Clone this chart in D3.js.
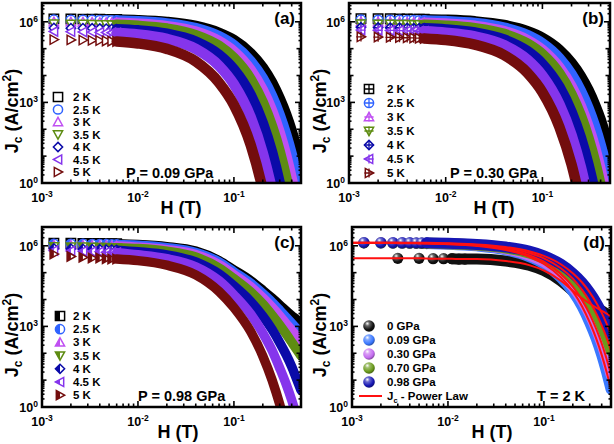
<!DOCTYPE html>
<html><head><meta charset="utf-8">
<script src="https://cdn.jsdelivr.net/npm/d3@7"></script>
<style>
body{margin:0;background:#fff}
text{font-family:Arial,"Liberation Sans",sans-serif;font-weight:bold;fill:#000}
</style></head>
<body><svg id="c" width="614" height="444"></svg>
<script>
// ---------- data ----------
const H = [0.00133,0.002,0.00267,0.00333,0.004,0.00467,0.00533,0.006,0.01,0.02,0.04,0.07,0.1,0.15,0.2,0.25,0.3,0.35,0.4,0.45,0.5];
const H0GPa = [0.003,0.005,0.007,0.009,0.011,0.013,0.015,0.02,0.04,0.07,0.1,0.15,0.2,0.25,0.3,0.35,0.4,0.45,0.5];
const tempLabels = ["2 K","2.5 K","3 K","3.5 K","4 K","4.5 K","5 K"];
const tempColors = ["#000000","#2f63ff","#c050f2","#5e8c12","#0a0aa8","#8535ec","#730d0d"];
const pressLabels = ["0 GPa","0.09 GPa","0.30 GPa","0.70 GPa","0.98 GPa"];
const pressColors = ["#111111","#3a78ff","#c46cf0","#6a9a1c","#1616b4"];
const xTickVals = [1e-3,1e-2,1e-1], xTickExp = ["-3","-2","-1"];
const yTickVals = [1,1e3,1e6], yTickExp = ["0","3","6"];

// (a) P = 0.09 GPa
const a2K  = [1.28e6,1.27e6,1.26e6,1.25e6,1.24e6,1.23e6,1.22e6,1.21e6,1.15e6,9.9e5,7.0e5,3.9e5,2.1e5,6.7e4,2.0e4,5.5e3,1.4e3,360,87,20,4.6];
const a25K = [1.19e6,1.18e6,1.17e6,1.16e6,1.15e6,1.14e6,1.13e6,1.12e6,1.05e6,8.7e5,5.8e5,2.9e5,1.35e5,3.4e4,7.9e3,1.7e3,340,65,12,2.0,0.34];
const a3K  = [9.9e5,9.8e5,9.7e5,9.6e5,9.5e5,9.4e5,9.3e5,9.2e5,8.5e5,6.9e5,4.3e5,1.9e5,7.9e4,1.6e4,2.9e3,490,75,11,1.5,0.19,0.025];
const a35K = [8.4e5,8.3e5,8.2e5,8.1e5,8.0e5,7.9e5,7.8e5,7.7e5,7.1e5,5.6e5,3.2e5,1.26e5,4.5e4,7.2e3,1.0e3,127,15,1.6,0.16,0.015];
const a4K  = [5.9e5,5.8e5,5.75e5,5.7e5,5.6e5,5.5e5,5.4e5,5.3e5,4.8e5,3.6e5,1.84e5,5.9e4,1.7e4,1.85e3,170,14,1.0,0.07];
const a45K = [4.35e5,4.3e5,4.2e5,4.15e5,4.05e5,4.0e5,3.9e5,3.8e5,3.35e5,2.3e5,9.8e4,2.3e4,4.7e3,275,13,0.53,0.02];
const a5K  = [2.17e5,2.12e5,2.08e5,2.03e5,1.99e5,1.94e5,1.89e5,1.84e5,1.56e5,9.8e4,3.35e4,5.4e3,800,25,0.55,0.01];
// (b) P = 0.30 GPa
const b2K  = [1.31e6,1.30e6,1.29e6,1.28e6,1.27e6,1.26e6,1.26e6,1.25e6,1.19e6,1.04e6,7.6e5,4.5e5,2.55e5,9.1e4,3.0e4,9.5e3,2.85e3,820,230,61,16];
const b25K = [1.19e6,1.18e6,1.17e6,1.16e6,1.15e6,1.14e6,1.13e6,1.12e6,1.06e6,9.0e5,6.1e5,3.2e5,1.58e5,4.4e4,1.13e4,2.7e3,610,131,27,5.3,1.0];
const b3K  = [9.9e5,9.8e5,9.7e5,9.6e5,9.5e5,9.4e5,9.3e5,9.2e5,8.6e5,7.1e5,4.5e5,2.1e5,9.1e4,2.0e4,4.0e3,740,127,21,3.2,0.46,0.065];
const b35K = [8.4e5,8.3e5,8.2e5,8.15e5,8.05e5,8.0e5,7.9e5,7.8e5,7.2e5,5.8e5,3.55e5,1.54e5,6.2e4,1.19e4,2.0e3,320,46,6.3,0.81,0.1];
const b4K  = [6.2e5,6.1e5,6.05e5,6.0e5,5.9e5,5.8e5,5.75e5,5.7e5,5.2e5,4.0e5,2.2e5,8.1e4,2.7e4,3.75e3,450,49,4.8,0.44,0.037];
const b45K = [4.9e5,4.85e5,4.75e5,4.7e5,4.6e5,4.55e5,4.45e5,4.4e5,3.9e5,2.85e5,1.36e5,3.9e4,1.0e4,860,62,3.9,0.22];
const b5K  = [2.75e5,2.7e5,2.65e5,2.6e5,2.55e5,2.5e5,2.45e5,2.4e5,2.1e5,1.41e5,5.8e4,1.26e4,2.4e3,121,4.9,0.17];
// (c) P = 0.98 GPa
const c2K  = [1.26e6,1.26e6,1.23e6,1.23e6,1.23e6,1.2e6,1.2e6,1.2e6,1.12e6,9.3e5,6.3e5,2.8e5,1.26e5,5.0e4,2.2e4,1.12e4,6.3e3,3.8e3,2.5e3,1.8e3,1.26e3];
const c25K = [1.17e6,1.17e6,1.16e6,1.15e6,1.15e6,1.14e6,1.13e6,1.12e6,1.05e6,8.5e5,5.6e5,2.5e5,1.07e5,4.0e4,1.66e4,7.9e3,4.0e3,2.2e3,1.32e3,830,560];
const c3K  = [1.05e6,1.04e6,1.03e6,1.02e6,1.01e6,1.0e6,9.9e5,9.8e5,8.9e5,7.2e5,4.7e5,2.0e5,8.5e4,3.0e4,1.17e4,5.2e3,2.5e3,1.26e3,710,420,250];
const c35K = [9.3e5,9.2e5,9.1e5,9.0e5,8.9e5,8.8e5,8.7e5,8.5e5,7.9e5,6.3e5,3.8e5,1.5e5,6.0e4,1.9e4,6.8e3,2.6e3,1.12e3,520,260,140,79];
const c4K  = [7.9e5,7.8e5,7.6e5,7.5e5,7.4e5,7.2e5,7.1e5,6.9e5,6.0e5,4.6e5,2.5e5,8.9e4,3.2e4,8.3e3,2.4e3,760,250,89,32,11,4.2];
const c45K = [6.6e5,6.4e5,6.3e5,6.1e5,6.0e5,5.8e5,5.7e5,5.5e5,4.6e5,3.3e5,1.66e5,5.0e4,1.48e4,2.8e3,560,126,28,7.1,1.8,0.45];
const c5K  = [4.9e5,4.0e5,3.7e5,3.5e5,3.5e5,3.3e5,3.2e5,3.2e5,2.8e5,1.9e5,8.3e4,2.0e4,5.0e3,630,79,10,1.26,0.16];
// (d) T = 2 K
const d0   = [3.4e5,3.4e5,3.3e5,3.3e5,3.3e5,3.2e5,3.2e5,3.2e5,2.7e5,1.9e5,1.2e5,5.0e4,2.1e4,1.12e4,7.1e3,5.0e3,3.8e3,3.0e3,2.4e3];
const d09  = [1.28e6,1.27e6,1.26e6,1.25e6,1.24e6,1.23e6,1.22e6,1.21e6,1.15e6,9.9e5,7.0e5,3.9e5,2.1e5,6.7e4,2.0e4,5.5e3,1.4e3,360,87,20,4.6];
const d30  = [1.31e6,1.30e6,1.29e6,1.28e6,1.27e6,1.26e6,1.26e6,1.25e6,1.19e6,1.04e6,7.6e5,4.5e5,2.55e5,9.1e4,3.0e4,9.5e3,2.85e3,820,230,61,16];
const d70  = [1.28e6,1.28e6,1.27e6,1.27e6,1.26e6,1.26e6,1.25e6,1.25e6,1.18e6,1.06e6,8.3e5,5.4e5,3.4e5,1.46e5,6.0e4,2.3e4,8.7e3,3.1e3,1.1e3,380,126];
const d98  = [1.31e6,1.31e6,1.30e6,1.30e6,1.30e6,1.29e6,1.29e6,1.29e6,1.23e6,1.12e6,9.0e5,6.3e5,4.2e5,2.06e5,9.5e4,4.3e4,1.85e4,7.8e3,3.2e3,1.27e3,500];
const fitStartD = [3.4e5,1.28e6,1.3e6,1.28e6,1.3e6]; // power-law fit level at H = 1e-3

// ---------- drawing ----------
const svg = d3.select("#c");
const defs = svg.append("defs");
const shapes = ["square","circle","up","down","diamond","left","right"];

function shapePath(t,r){
  const q=0.8*r;
  switch(t){
    case "square": return `M${-r},${-r}H${r}V${r}H${-r}Z`;
    case "circle": return `M${r},0A${r},${r} 0 1 1 ${-r},0A${r},${r} 0 1 1 ${r},0Z`;
    case "up": return `M0,${-r}L${r},${q}L${-r},${q}Z`;
    case "down": return `M0,${r}L${r},${-q}L${-r},${-q}Z`;
    case "diamond": return `M0,${-r}L${r},0L0,${r}L${-r},0Z`;
    case "left": return `M${-r},0L${q},${-r}L${q},${r}Z`;
    case "right": return `M${r},0L${-q},${-r}L${-q},${r}Z`;
  }
}
function halfPath(t,r){ // left half of the shape
  const q=0.8*r, m=r/(r+q)*r;
  switch(t){
    case "square": return `M${-r},${-r}H0V${r}H${-r}Z`;
    case "circle": return `M0,${-r}A${r},${r} 0 0 0 0,${r}Z`;
    case "up": return `M0,${-r}L0,${q}L${-r},${q}Z`;
    case "down": return `M0,${r}L0,${-q}L${-r},${-q}Z`;
    case "diamond": return `M0,${-r}L0,${r}L${-r},0Z`;
    case "left": return `M${-r},0L0,${-m}L0,${m}Z`;
    case "right": return `M${-q},${-r}L0,${-r+(q)/(r+q)*r}L0,${r-(q)/(r+q)*r}L${-q},${r}Z`;
  }
}
function gradId(color,i){
  const id="sph"+i;
  const g=defs.append("radialGradient").attr("id",id).attr("cx","40%").attr("cy","35%").attr("r","65%").attr("fx","35%").attr("fy","28%");
  g.append("stop").attr("offset","0%").attr("stop-color","#ffffff");
  g.append("stop").attr("offset","30%").attr("stop-color",d3.interpolateRgb(color,"#fff")(0.35));
  g.append("stop").attr("offset","75%").attr("stop-color",color);
  g.append("stop").attr("offset","100%").attr("stop-color",d3.color(color).darker(1.2));
  return id;
}
const sphereIds = pressColors.map((c,i)=>gradId(c,i));

function drawMarker(g,x,y,style,t,color,r,idx){
  const gg=g.append("g").attr("transform",`translate(${x},${y})`);
  if(style==="open"){
    gg.append("path").attr("d",shapePath(t,r)).attr("fill","#fff").attr("stroke",color).attr("stroke-width",1.5);
  } else if(style==="cross"){
    gg.append("path").attr("d",shapePath(t,r)).attr("fill","#fff").attr("stroke",color).attr("stroke-width",1.5);
    gg.append("path").attr("d",`M${-r},0H${r}M0,${-r}V${r}`).attr("stroke",color).attr("stroke-width",1.3);
  } else if(style==="half"){
    gg.append("path").attr("d",shapePath(t,r)).attr("fill","#fff").attr("stroke",color).attr("stroke-width",1.5);
    gg.append("path").attr("d",halfPath(t,r)).attr("fill",color);
  } else if(style==="sphere"){
    gg.append("circle").attr("r",r).attr("fill",`url(#${sphereIds[idx]})`);
  }
}

function supText(g,x,y,base,sup,size,anchor){
  const t=g.append("text").attr("x",x).attr("y",y).attr("text-anchor",anchor).style("font-size",size+"px");
  t.append("tspan").text(base);
  t.append("tspan").attr("dy",-size*0.42).style("font-size",(size*0.68)+"px").text(sup);
  return t;
}

const panels = [
 {key:"a",x0:42,x1:301,y0:3,y1:183,style:"open",bw:10.5,series:[a2K,a25K,a3K,a35K,a4K,a45K,a5K],
  leg:{mx:58,tx:73,y:97,dy:12.5},note:"P = 0.09 GPa",nx:126,ny:178,letter:"(a)",xt:[181,214],yt:[18,111]},
 {key:"b",x0:349,x1:610,y0:3,y1:183,style:"cross",bw:10.5,series:[b2K,b25K,b3K,b35K,b4K,b45K,b5K],
  leg:{mx:369,tx:387,y:89,dy:14},note:"P = 0.30 GPa",nx:450,ny:178,letter:"(b)",xt:[494,214],yt:[326,111]},
 {key:"c",x0:42,x1:301,y0:227,y1:407,style:"half",bw:9.5,series:[c2K,c25K,c3K,c35K,c4K,c45K,c5K],
  leg:{mx:60,tx:73,y:316,dy:13.2},note:"P = 0.98 GPa",nx:138,ny:401,letter:"(c)",xt:[178,438],yt:[18,335]},
 {key:"d",x0:352,x1:611,y0:227,y1:407,style:"sphere",bw:11,series:[d0,d09,d30,d70,d98],
  leg:{mx:369,tx:387,y:326,dy:14},note:"T = 2 K",nx:537,ny:401,letter:"(d)",xt:[492,438],yt:[326,335]}
];

panels.forEach(p=>{
  const x=d3.scaleLog().domain([1e-3,0.5]).range([p.x0,p.x1]);
  const y=d3.scaleLog().domain([1,5e6]).range([p.y1,p.y0]);
  defs.append("clipPath").attr("id","clip"+p.key).append("rect")
    .attr("x",p.x0).attr("y",p.y0).attr("width",p.x1-p.x0).attr("height",p.y1-p.y0);
  const g=svg.append("g").attr("clip-path",`url(#clip${p.key})`);
  const line=d3.line().x(d=>x(d[0])).y(d=>y(d[1])).curve(d3.curveMonotoneX);
  const isD = p.style==="sphere";
  const r = isD?5.6:4.7;
  p.series.forEach((vals,i)=>{
    const hx = (isD && i===0)?H0GPa:H;
    const pts = vals.map((v,k)=>[hx[k],v]);
    const color = isD?pressColors[i]:tempColors[i];
    const bandFrom = (isD && i===0)?4:7;
    const markTo = (isD && i===0)?6:7;
    pts.slice(0,markTo+1).forEach(d=>drawMarker(g,x(d[0]),y(d[1]),p.style,shapes[i],color,r,i));
    g.append("path").attr("d",line(pts.slice(bandFrom))).attr("fill","none")
      .attr("stroke",color).attr("stroke-width",p.bw).attr("stroke-linecap","round");
  });
  if(isD){
    p.series.forEach((vals,i)=>{
      const hx = i===0?H0GPa:H;
      const pts=[[1e-3,fitStartD[i]]].concat(vals.map((v,k)=>[hx[k],v]));
      g.append("path").attr("d",line(pts)).attr("fill","none").attr("stroke","#ff1010").attr("stroke-width",2);
    });
  }
  svg.append("rect").attr("x",p.x0).attr("y",p.y0).attr("width",p.x1-p.x0).attr("height",p.y1-p.y0)
    .attr("fill","none").attr("stroke","#000").attr("stroke-width",2.5);
  const tk=svg.append("g").attr("stroke","#000").attr("stroke-width",1.6);
  for(let e=-3;e<=-1;e++){
    for(let m=1;m<=9;m++){
      const v=m*Math.pow(10,e); if(v>0.5) continue;
      const L=m===1?6:3.5, xx=x(v);
      tk.append("line").attr("x1",xx).attr("x2",xx).attr("y1",p.y1).attr("y2",p.y1-L);
      tk.append("line").attr("x1",xx).attr("x2",xx).attr("y1",p.y0).attr("y2",p.y0+L);
    }
  }
  for(let e=0;e<=6;e++){
    for(let m=1;m<=9;m++){
      const v=m*Math.pow(10,e); if(v>5e6) continue;
      const L=m===1?(e%3===0?6:4.5):2.5, yy=y(v);
      tk.append("line").attr("y1",yy).attr("y2",yy).attr("x1",p.x0).attr("x2",p.x0+L);
      tk.append("line").attr("y1",yy).attr("y2",yy).attr("x1",p.x1).attr("x2",p.x1-L);
    }
  }
  xTickVals.forEach((v,i)=>supText(svg,x(v),p.y1+19,"10",xTickExp[i],12.5,"middle"));
  yTickVals.forEach((v,i)=>supText(svg,p.x0-4,y(v)+5,"10",yTickExp[i],12.5,"end"));
  svg.append("text").attr("x",p.xt[0]).attr("y",p.xt[1]).attr("text-anchor","middle").style("font-size","18px").text("H (T)");
  const yt=svg.append("text").attr("transform",`translate(${p.yt[0]},${p.yt[1]}) rotate(-90)`).attr("text-anchor","middle").style("font-size","18px");
  yt.append("tspan").text("J");
  yt.append("tspan").attr("dy",4).style("font-size","12px").text("c");
  yt.append("tspan").attr("dy",-4).text(" (A/cm");
  yt.append("tspan").attr("dy",-7).style("font-size","12px").text("2");
  yt.append("tspan").attr("dy",7).text(")");
  svg.append("text").attr("x",p.x1-6).attr("y",p.y0+21).attr("text-anchor","end").style("font-size","17px").text(p.letter);
  svg.append("text").attr("x",p.nx).attr("y",p.ny).style("font-size","14.5px").text(p.note);
  const labels = isD?pressLabels:tempLabels;
  labels.forEach((lab,i)=>{
    const yy=p.leg.y+i*p.leg.dy;
    drawMarker(svg,p.leg.mx,yy,p.style,shapes[i],isD?pressColors[i]:tempColors[i],isD?5.8:4.6,i);
    svg.append("text").attr("x",p.leg.tx).attr("y",yy+4).style("font-size","11.5px").text(lab);
  });
  if(isD){
    const yy=p.leg.y+5*p.leg.dy;
    svg.append("line").attr("x1",p.leg.mx-10).attr("x2",p.leg.mx+13).attr("y1",yy).attr("y2",yy).attr("stroke","#ff1010").attr("stroke-width",2);
    const t=svg.append("text").attr("x",p.leg.tx).attr("y",yy+4).style("font-size","11.5px");
    t.append("tspan").text("J");
    t.append("tspan").attr("dy",3).style("font-size","7.5px").text("c");
    t.append("tspan").attr("dy",-3).text(" - Power Law");
  }
});
</script></body></html>
